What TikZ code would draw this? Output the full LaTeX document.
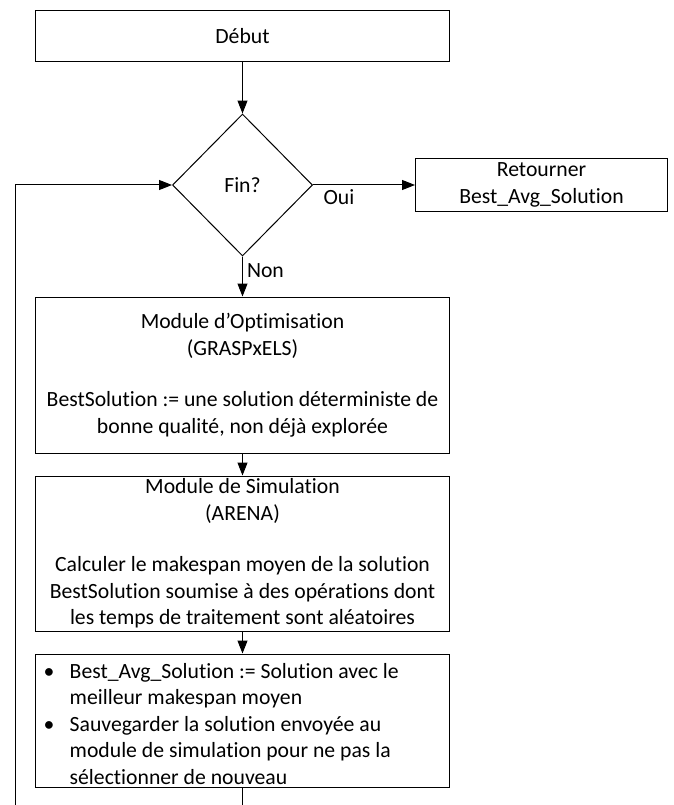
\documentclass[tikz,border=0pt]{standalone}
\usepackage{fontspec}
\setmainfont{Carlito}[Ligatures={NoCommon}]
\usetikzlibrary{positioning,arrows.meta,shapes.geometric}

\begin{document}
\begin{tikzpicture}[
    x=1pt,y=-1pt,
    font=\fontsize{21.7}{26.5}\selectfont,
    box/.style={draw,line width=1pt,minimum width=414pt,inner sep=0pt,align=center},
    decision/.style={draw,diamond,line width=1pt,minimum width=140pt,minimum height=142pt,inner sep=0pt},
    arr/.style={-{Triangle[length=13pt,width=10pt]},line width=1pt}
  ]
  \clip (0,0) rectangle (673,805);
  \node[box,minimum height=51pt] (debut) at (242.5,36.5) {Début};
  \node[decision,below=51pt of debut] (fin) {Fin?};
  \node[box,minimum width=252pt,minimum height=52pt,right=102pt of fin] (retour) {Retourner\\Best\_Avg\_Solution};
  \node[box,minimum height=156pt,below=40pt of fin] (optim) {Module d’Optimisation\\(GRASPxELS)\\[25pt]BestSolution := une solution déterministe de\\bonne qualité, non déjà explorée};
  \node[box,minimum height=155pt,below=22pt of optim] (simul) {Module de Simulation\\(ARENA)\\[25pt]Calculer le makespan moyen de la solution\\BestSolution soumise à des opérations dont\\les temps de traitement sont aléatoires};
  \node[box,minimum height=133pt,below=22pt of simul] (save) {};
  \node[anchor=west,inner sep=0pt] (savetext) at ([xshift=8.5pt,yshift=-5.5pt]save.west) {\begin{tabular}{@{}l@{}l@{}}
      \makebox[26pt][l]{\textbullet} & Best\_Avg\_Solution := Solution avec le\\
      & meilleur makespan moyen\\
      \makebox[26pt][l]{\textbullet} & Sauvegarder la solution envoyée au\\
      & module de simulation pour ne pas la\\
      & sélectionner de nouveau
    \end{tabular}};
  \coordinate (corner) at (15,830);

  \draw[arr] (debut) -- (fin);
  \draw[arr] (fin.east) -- node[pos=0,anchor=north west,inner sep=0pt,xshift=10pt,yshift=-4pt] (oui) {Oui} (retour.west);
  \draw[arr] (fin.south) -- node[pos=0.35,anchor=west,inner sep=0pt,xshift=4pt] (non) {Non} (optim.north);
  \draw[arr] (optim) -- (simul);
  \draw[arr] (simul) -- (save);
  \draw[arr] (save.south) |- (corner) |- (fin.west);
\end{tikzpicture}
\end{document}
